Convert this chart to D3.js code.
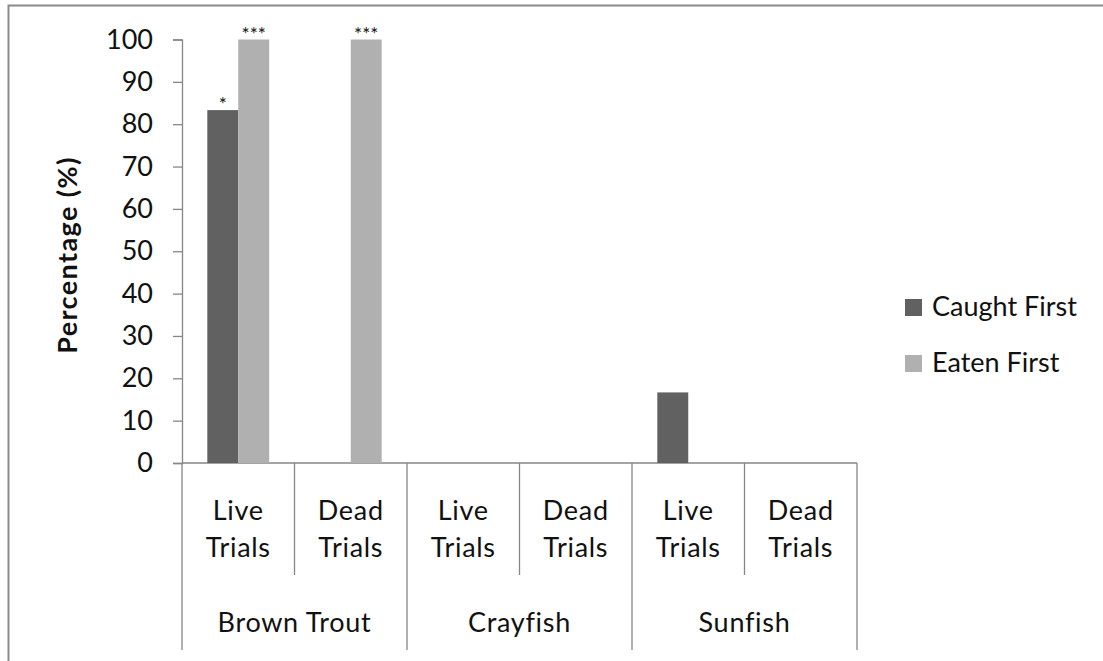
<!DOCTYPE html>
<html>
<head>
<meta charset="utf-8">
<script src="https://cdn.jsdelivr.net/npm/d3@7"></script>
<style>
  html, body { margin: 0; padding: 0; background: #fff; }
  svg { display: block; }
  text { font-family: Lato, "Open Sans", sans-serif; fill: #111; }
</style>
</head>
<body>
<svg id="chart" width="1103" height="661"></svg>
<script>
// ---- data ----
const species = ["Brown Trout", "Crayfish", "Sunfish"];
const trialTypes = ["Live Trials", "Dead Trials"];
const seriesNames = ["Caught First", "Eaten First"];
const caughtFirst = [83.33, 0, 0, 0, 16.67, 0];
const eatenFirst = [100, 100, 0, 0, 0, 0];
const caughtSig = ["*", "", "", "", "", ""];
const eatenSig = ["***", "***", "", "", "", ""];
const yTicks = [0, 10, 20, 30, 40, 50, 60, 70, 80, 90, 100];
const seriesColors = ["#616161", "#b0b0b0"];

// ---- layout ----
const svg = d3.select("#chart");
const W = 1103, H = 661;
const plot = { left: 182, right: 857, top: 39.5, bottom: 463 };

// outer border (only top & left visible in the reference)
svg.append("rect")
  .attr("x", 8.5).attr("y", 5.5)
  .attr("width", W + 20).attr("height", H + 20)
  .attr("fill", "none").attr("stroke", "#8a8a8a").attr("stroke-width", 2);

const subcats = [];
species.forEach(s => trialTypes.forEach(t => subcats.push(s + "|" + t)));

const x0 = d3.scaleBand().domain(subcats).range([plot.left, plot.right]).paddingInner(0).paddingOuter(0);
const xs = d3.scaleBand().domain(species).range([plot.left, plot.right]);
const barFrac = 0.55; // fraction of subcategory occupied by the pair of bars
const x1 = d3.scaleBand().domain(seriesNames)
  .range([0, x0.bandwidth()]).paddingOuter((1 - barFrac) / barFrac).paddingInner(0);
const y = d3.scaleLinear().domain([0, 100]).range([plot.bottom, plot.top]);

// y axis
const yAxis = d3.axisLeft(y).tickValues(yTicks).tickSize(9).tickPadding(20).tickFormat(d3.format("d"));
const gy = svg.append("g").attr("transform", `translate(${plot.left},0)`).call(yAxis);
gy.select(".domain").attr("stroke", "#868686").attr("stroke-width", 1.3);
gy.selectAll(".tick line").attr("stroke", "#868686").attr("stroke-width", 1.3);
gy.selectAll(".tick text").style("font-size", "27px").style("font-family", "Lato, sans-serif").attr("fill", "#111");

// x axis baseline
svg.append("line")
  .attr("x1", plot.left).attr("x2", plot.right)
  .attr("y1", y(0)).attr("y2", y(0))
  .attr("stroke", "#868686").attr("stroke-width", 1.3);

// bars
const rows = subcats.map((k, i) => ({ key: k, vals: [caughtFirst[i], eatenFirst[i]], sig: [caughtSig[i], eatenSig[i]] }));
const groups = svg.append("g").selectAll("g").data(rows).join("g")
  .attr("transform", d => `translate(${x0(d.key)},0)`);
groups.selectAll("rect").data(d => d.vals.map((v, j) => ({ v, s: seriesNames[j], j })))
  .join("rect")
  .attr("x", d => x1(d.s))
  .attr("width", x1.bandwidth())
  .attr("y", d => y(d.v))
  .attr("height", d => y(0) - y(d.v))
  .attr("fill", d => seriesColors[d.j]);
groups.selectAll("text.sig").data(d => d.vals.map((v, j) => ({ v, s: seriesNames[j], t: d.sig[j] })))
  .join("text").attr("class", "sig")
  .attr("x", d => x1(d.s) + x1.bandwidth() / 2)
  .attr("y", d => y(d.v) + 1)
  .attr("text-anchor", "middle")
  .style("font-size", "19px").attr("fill", "#444")
  .text(d => d.t);

// category separators and labels
const sepColor = "#868686";
subcats.forEach((k, i) => {
  const xl = x0(k);
  const isGroupStart = i % trialTypes.length === 0;
  svg.append("line").attr("x1", xl).attr("x2", xl)
    .attr("y1", y(0)).attr("y2", isGroupStart ? 650 : 575)
    .attr("stroke", sepColor).attr("stroke-width", 1.3);
  const parts = k.split("|")[1].split(" ");
  const cx = xl + x0.bandwidth() / 2;
  svg.append("text").attr("x", cx).attr("y", 520).attr("text-anchor", "middle")
    .style("font-size", "27px").style("letter-spacing", "0.7px").text(parts[0]);
  svg.append("text").attr("x", cx).attr("y", 557).attr("text-anchor", "middle")
    .style("font-size", "27px").style("letter-spacing", "0.7px").text(parts[1]);
});
svg.append("line").attr("x1", plot.right).attr("x2", plot.right)
  .attr("y1", y(0)).attr("y2", 650).attr("stroke", sepColor).attr("stroke-width", 1.3);

species.forEach(s => {
  svg.append("text").attr("x", xs(s) + xs.bandwidth() / 2).attr("y", 632)
    .attr("text-anchor", "middle").style("font-size", "27px").style("letter-spacing", "0.7px").text(s);
});

// y title
svg.append("text")
  .attr("transform", `translate(77,255) rotate(-90)`)
  .attr("text-anchor", "middle")
  .style("font-size", "27px").style("font-weight", "bold").style("letter-spacing", "1.4px")
  .text("Percentage (%)");

// legend
const leg = svg.append("g").attr("transform", "translate(905,299)");
seriesNames.forEach((n, i) => {
  const g = leg.append("g").attr("transform", `translate(0,${i * 56})`);
  g.append("rect").attr("width", 17).attr("height", 17).attr("fill", seriesColors[i]);
  g.append("text").attr("x", 27).attr("y", 17).style("font-size", "27px").text(n);
});
</script>
</body>
</html>
